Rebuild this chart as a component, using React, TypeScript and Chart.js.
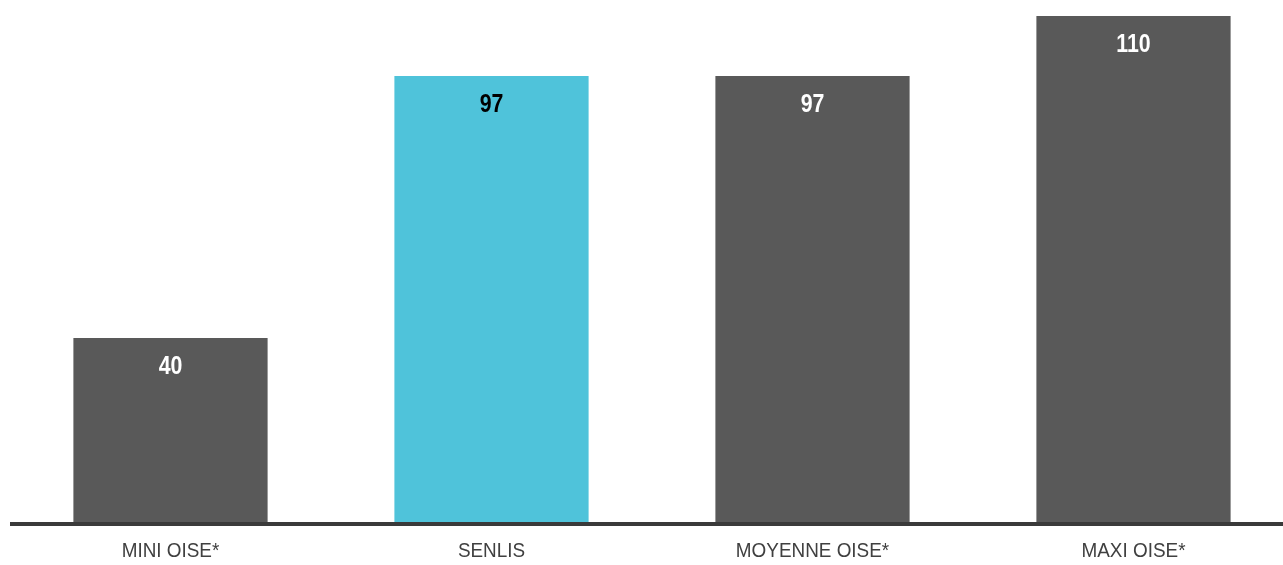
import React, { useEffect, useRef } from "react";
import { Chart, registerables } from "chart.js";

Chart.register(...registerables);

const categories = ["MINI OISE*", "SENLIS", "MOYENNE OISE*", "MAXI OISE*"];
const values = [40, 97, 97, 110];
const barColors = ["#595959", "#4FC3DA", "#595959", "#595959"];
const labelColors = ["#ffffff", "#000000", "#ffffff", "#ffffff"];

const FONT = "'Liberation Sans', Arial, sans-serif";

function condensedText(ctx: any, text: string, x: number, y: number, sx: number) {
  ctx.save();
  ctx.translate(x, y);
  ctx.scale(sx, 1);
  ctx.fillText(text, 0, 0);
  ctx.restore();
}

const valueLabels = {
  id: "valueLabels",
  afterDatasetsDraw(chart: any) {
    const ctx = chart.ctx;
    const meta = chart.getDatasetMeta(0);
    ctx.save();
    ctx.font = `bold 26px ${FONT}`;
    ctx.textAlign = "center";
    ctx.textBaseline = "middle";
    meta.data.forEach((bar: any, i: number) => {
      ctx.fillStyle = labelColors[i];
      condensedText(ctx, String(values[i]), bar.x, bar.y + 28.5, 0.82);
    });
    ctx.restore();
  },
};

const axisAndLabels = {
  id: "axisAndLabels",
  afterDatasetsDraw(chart: any) {
    const { ctx, chartArea } = chart;
    const xScale = chart.scales.x;
    ctx.save();
    ctx.fillStyle = "#3a3a3a";
    ctx.fillRect(chartArea.left, chartArea.bottom, chart.width - chartArea.left, 4);
    ctx.font = `21px ${FONT}`;
    ctx.textAlign = "center";
    ctx.textBaseline = "middle";
    ctx.fillStyle = "#404040";
    categories.forEach((c, i) => {
      condensedText(ctx, c, xScale.getPixelForTick(i), chartArea.bottom + 29, 0.9);
    });
    ctx.restore();
  },
};

export default function App() {
  const ref = useRef<HTMLCanvasElement | null>(null);
  useEffect(() => {
    if (!ref.current) return;
    const chart = new Chart(ref.current, {
      type: "bar",
      data: {
        labels: categories,
        datasets: [
          {
            data: values,
            backgroundColor: barColors,
            borderWidth: 0,
            barPercentage: 0.605,
            categoryPercentage: 1,
          },
        ],
      },
      options: {
        responsive: false,
        animation: false,
        devicePixelRatio: 1,
        layout: { padding: { left: 10, right: 0, top: 0, bottom: 0 } },
        plugins: { legend: { display: false }, tooltip: { enabled: false } },
        scales: {
          x: {
            grid: { display: false, drawTicks: false },
            border: { display: false },
            ticks: { display: false },
            afterFit(scale: any) {
              scale.height = 43;
            },
          },
          y: {
            display: false,
            min: 0,
            max: 113.5,
          },
        },
      },
      plugins: [axisAndLabels, valueLabels],
    });
    return () => chart.destroy();
  }, []);
  return (
    <div style={{ position: "fixed", left: 0, top: 0, width: 1283, height: 565, overflow: "hidden", background: "#fff" }}>
      <canvas ref={ref} width={1294} height={565} style={{ width: 1294, height: 565, display: "block" }} />
    </div>
  );
}
